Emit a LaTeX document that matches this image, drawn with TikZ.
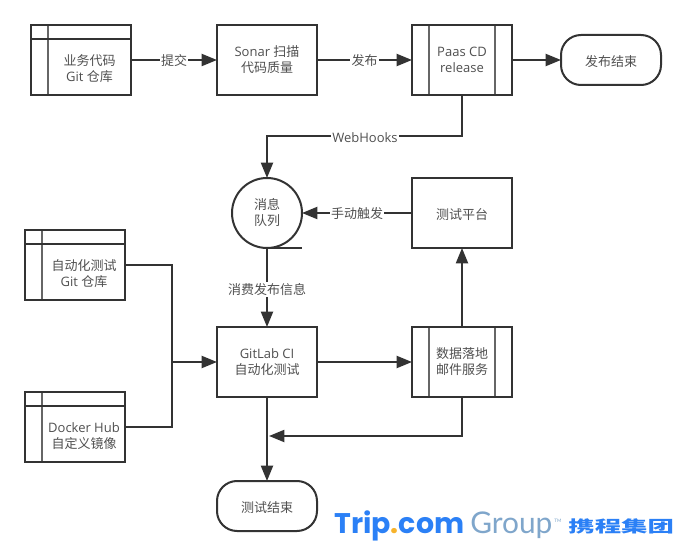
\documentclass[tikz,border=0pt]{standalone}
\usepackage{fontspec}
\setmainfont{Open Sans}
\newfontfamily\cjk{Noto Sans CJK SC}
\newfontfamily\logoTrip{Poppins}[BoldFont={Poppins Bold}]
\newfontfamily\logoGroup{Lato}
\usetikzlibrary{arrows.meta,calc}
\newcommand{\zh}[1]{{\cjk #1}}
\definecolor{ink}{HTML}{333333}
\definecolor{txt}{HTML}{505050}
\definecolor{rule}{HTML}{666666}
\definecolor{logoblue}{HTML}{2B80F6}
\definecolor{logogrey}{HTML}{7FA6CB}
\definecolor{logodot}{HTML}{F7B32B}
\tikzset{
  base/.style={draw=ink,line width=1.5pt,outer sep=0pt,inner sep=0pt,fill=white,text=txt,align=center,
    font=\fontsize{9.75}{12}\selectfont,execute at begin node={\rule{0pt}{11.2pt}}},
  procbox/.style={base,rectangle,minimum width=75pt,minimum height=52.5pt},
  inner/.style={draw=rule,line width=1.5pt},
  repobox/.style={procbox,path picture={
    \draw[inner] ($(path picture bounding box.north west)+(12.4pt,0)$) -- ($(path picture bounding box.south west)+(12.4pt,0)$);
    \draw[ink,line width=1.5pt] ($(path picture bounding box.north west)+(0,-10.2pt)$) -- ($(path picture bounding box.north east)+(0,-10.2pt)$);
  }},
  predef/.style={procbox,path picture={
    \draw[inner] ($(path picture bounding box.north west)+(12.4pt,0)$) -- ($(path picture bounding box.south west)+(12.4pt,0)$);
    \draw[inner] ($(path picture bounding box.north east)+(-12.4pt,0)$) -- ($(path picture bounding box.south east)+(-12.4pt,0)$);
  }},
  termbox/.style={base,rectangle,rounded corners=15pt,minimum width=75pt,minimum height=37.5pt},
  queue/.style={base,circle,minimum size=52.5pt},
  repotext/.style={text=txt,align=center,inner sep=0pt,font=\fontsize{9.75}{12}\selectfont},
  flow/.style={draw=ink,line width=1.5pt,-{Triangle[length=11.5pt,width=9pt]}},
  plain/.style={draw=ink,line width=1.5pt},
  edgelabel/.style={fill=white,text=txt,inner sep=1pt,font=\fontsize{9.75}{12}\selectfont},
}
\begin{document}
\begin{tikzpicture}[x=0.75pt,y=-0.75pt]
\useasboundingbox[fill=white] (0,0) rectangle (686,556);

% nodes
\node[repobox] (repo) at (81,60) {};
\node[repotext] (repot) at (89.5,69) {\zh{业务代码}\\Git \zh{仓库}};
\node[procbox] (sonar) at (267,60) {Sonar \zh{扫描}\\\zh{代码质量}};
\node[predef] (paas) at (462,60) {Paas CD\\release};
\node[termbox] (pubend) at (611,60) {\zh{发布结束}};
\node[queue] (mq) at (267,213) {\zh{消息}\\\zh{队列}};
\node[procbox] (platform) at (462,213) {\zh{测试平台}};
\node[repobox] (autorepo) at (75,265) {};
\node[repotext] (autot) at (84,274) {\zh{自动化测试}\\Git \zh{仓库}};
\node[repobox] (docker) at (75,427) {};
\node[repotext] (dockert) at (84,436) {Docker Hub\\\zh{自定义镜像}};
\node[procbox] (gitlab) at (267,362) {GitLab CI\\\zh{自动化测试}};
\node[predef] (data) at (462,362) {\zh{数据落地}\\\zh{邮件服务}};
\node[termbox] (testend) at (267,506) {\zh{测试结束}};

% helper points
\coordinate (tail) at (302,248);
\coordinate (hookR) at (462,136);
\coordinate (hookL) at (267,136);
\coordinate (join) at (172,362);
\coordinate (autoC) at (172,265);
\coordinate (dockC) at (172,427);
\coordinate (backR) at (462,436);
\coordinate (backL) at (269,436);

% connectors
\draw[flow] (repo) -- node[edgelabel,yshift=-0.7pt] {\zh{提交}} (sonar);
\draw[flow] (sonar) -- node[edgelabel,yshift=-0.7pt] {\zh{发布}} (paas);
\draw[flow] (paas) -- (pubend);
\draw[flow] (paas.south) -- (hookR) -- (hookL) -- (mq.north);
\node[edgelabel] (hooklabel) at (365,138) {WebHooks};
\draw[plain] (mq.south) -- (tail);
\draw[flow] (platform.west) -- node[edgelabel,yshift=-0.7pt] {\zh{手动触发}} (mq.east);
\draw[flow] (mq.south) -- node[edgelabel,yshift=-1.5pt] {\zh{消费发布信息}} (gitlab.north);
\draw[flow] (data.north) -- (platform.south);
\draw[flow] (gitlab) -- (data);
\draw[plain] (autorepo.east) -- (autoC) -- (join);
\draw[plain] (docker.east) -- (dockC) -- (join);
\draw[flow] (join) -- (gitlab.west);
\draw[flow] (gitlab.south) -- (testend.north);
\draw[flow] (data.south) -- (backR) -- (backL);

% logo
\node[anchor=base west,inner sep=0pt,text=logoblue,font={\logoTrip\bfseries\fontsize{21.3}{22}\selectfont}] (logoa) at (334,533) {Trip\textcolor{logodot}{.}com};
\node[anchor=base west,inner sep=0pt,text=logogrey,font={\logoGroup\fontsize{22.4}{24}\selectfont}] (logob) at (470,533) {Group};
\node[anchor=base west,inner sep=0pt,text=logogrey,font={\logoGroup\fontsize{3.5}{4}\selectfont}] (logoc) at (554,522) {TM};
\node[anchor=base west,inner sep=0pt,text=logoblue,xscale=1.65,font={\cjk\bfseries\fontsize{12}{12}\selectfont}] (logod) at (568,532.5) {携程集团};
\end{tikzpicture}
\end{document}
